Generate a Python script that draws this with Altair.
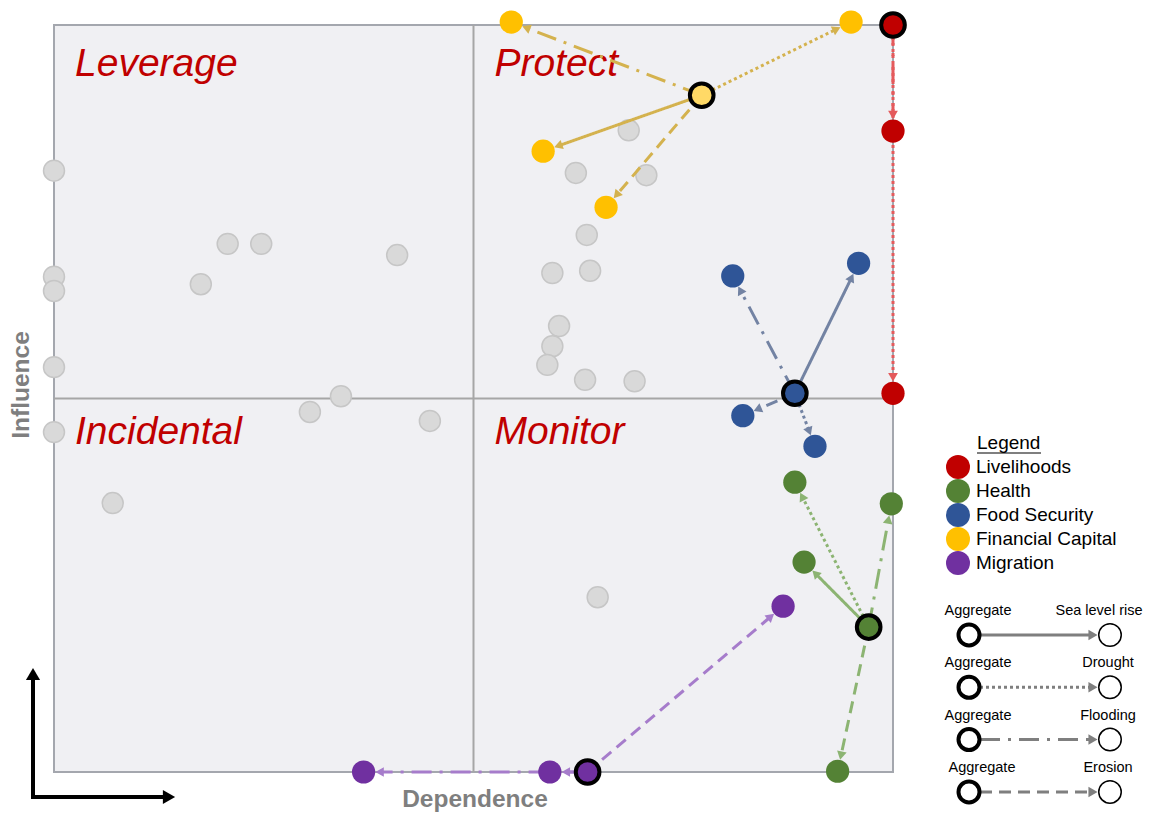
import math
import altair as alt
import pandas as pd

# ---------------- data ----------------
categories = ["Livelihoods", "Health", "Food Security", "Financial Capital", "Migration"]
scenarios = ["Sea level rise", "Drought", "Flooding", "Erosion"]

# aggregate position of each highlighted item
agg_x = [10.0, 9.71, 8.83, 7.72, 6.36]
agg_y = [10.0, 1.94, 5.07, 9.06, 0.0]

# position of each item under each scenario (None = no arrow)
slr_x = [None, 8.94, 9.59, 5.83, 5.91]
slr_y = [None, 2.81, 6.81, 8.31, 0.0]
drought_x = [10.0, 8.83, 9.07, 9.50, None]
drought_y = [5.07, 3.88, 4.36, 10.04, None]
flooding_x = [10.0, 9.98, 8.09, 5.45, 3.69]
flooding_y = [8.58, 3.59, 6.64, 10.04, 0.0]
erosion_x = [None, 9.34, 8.21, 6.58, 8.69]
erosion_y = [None, 0.01, 4.77, 7.56, 2.22]

# other (grey) items
other_x = [0.0, 2.07, 2.47, 4.09, 1.75, 0.0, 0.0, 0.0, 3.42, 3.05, 4.48, 0.0, 0.70,
           6.85, 6.22, 7.06, 6.35, 5.94, 6.39, 6.02, 5.94, 5.88, 6.33, 6.92, 6.48]
other_y = [8.05, 7.07, 7.07, 6.92, 6.53, 6.63, 6.44, 5.42, 5.03, 4.82, 4.70, 4.55, 3.60,
           8.59, 8.02, 7.99, 7.19, 6.68, 6.71, 5.97, 5.70, 5.45, 5.25, 5.23, 2.34]

quadrant_labels = ["Leverage", "Protect", "Incidental", "Monitor"]
x_title = "Dependence"
y_title = "Influence"
legend_title = "Legend"
aggregate_label = "Aggregate"

# ---------------- styles ----------------
cat_colors = ["#C00000", "#548235", "#2F5597", "#FFC000", "#7030A0"]
agg_fills = ["#C00000", "#548235", "#2F5597", "#FFD966", "#7030A0"]
arrow_colors = ["#E45A5C", "#8CB472", "#7383A3", "#D4B24E", "#A67CCB"]
dash_styles = [[1, 0], [3, 3], [20, 8, 3, 8], [12, 7]]

X_LO, X_HI, Y_LO, Y_HI = 0.0, 10.0, 0.0, 10.0
X_MID, Y_MID = (X_LO + X_HI) / 2, (Y_LO + Y_HI) / 2
W, H = 839, 747
PX = W / (X_HI - X_LO)
PY = H / (Y_HI - Y_LO)
BACK = 16.0  # target radius + half arrow head (px)

xs = alt.Scale(domain=[X_LO, X_HI], nice=False, zero=False)
ys = alt.Scale(domain=[Y_LO, Y_HI], nice=False, zero=False)


def X(f):
    return alt.X(f, type="quantitative", scale=xs, axis=None)


def Y(f):
    return alt.Y(f, type="quantitative", scale=ys, axis=None)


# ---------------- tables ----------------
targets = {
    "Sea level rise": (slr_x, slr_y),
    "Drought": (drought_x, drought_y),
    "Flooding": (flooding_x, flooding_y),
    "Erosion": (erosion_x, erosion_y),
}
arrow_rows, target_rows = [], []
for i, c in enumerate(categories):
    for s in scenarios:
        tx, ty = targets[s][0][i], targets[s][1][i]
        if tx is None:
            continue
        dxp = (tx - agg_x[i]) * PX
        dyp = (agg_y[i] - ty) * PY
        L = math.hypot(dxp, dyp)
        ux, uy = dxp / L, dyp / L
        arrow_rows.append({
            "category": c, "scenario": s,
            "ax": agg_x[i], "ay": agg_y[i],
            "hx": tx - BACK * ux / PX, "hy": ty + BACK * uy / PY,
            "ang": (math.degrees(math.atan2(ux, -uy)) + 360) % 360,
            "acol": arrow_colors[i],
        })
        target_rows.append({"category": c, "scenario": s, "tx": tx, "ty": ty})

arrows = pd.DataFrame(arrow_rows)
tgt = pd.DataFrame(target_rows)
agg = pd.DataFrame({"category": categories, "ax": agg_x, "ay": agg_y, "fill": agg_fills})
others = pd.DataFrame({"x": other_x, "y": other_y})
quads = pd.DataFrame({"label": quadrant_labels,
                      "qx": [X_LO, X_MID, X_LO, X_MID],
                      "qy": [Y_HI, Y_HI, Y_MID, Y_MID],
                      "row": ["top", "top", "bottom", "bottom"]})

layers = []

# quadrant dividers
layers.append(alt.Chart(pd.DataFrame({"x": [X_MID]})).mark_rule(color="#A6A6A6", strokeWidth=2)
              .encode(x=X("x")))
layers.append(alt.Chart(pd.DataFrame({"y": [Y_MID]})).mark_rule(color="#A6A6A6", strokeWidth=2)
              .encode(y=Y("y")))

# quadrant labels
for row, dy in [("top", 51), ("bottom", 45)]:
    layers.append(
        alt.Chart(quads).transform_filter(alt.datum.row == row)
        .mark_text(align="left", baseline="alphabetic", font="Liberation Sans",
                   fontStyle="italic", fontSize=39, color="#C00000", dx=21, dy=dy)
        .encode(x=X("qx"), y=Y("qy"), text="label:N"))

# grey items
layers.append(alt.Chart(others).mark_circle(size=440, color="#D9D9D9", stroke="#C6C6C6",
                                            strokeWidth=1.5, opacity=1)
              .encode(x=X("x"), y=Y("y")))

# arrows
layers.append(
    alt.Chart(arrows).mark_rule(strokeWidth=3)
    .encode(x=X("ax"), y=Y("ay"), x2="hx:Q", y2="hy:Q",
            stroke=alt.Stroke("acol:N", scale=None),
            strokeDash=alt.StrokeDash("scenario:N",
                                      scale=alt.Scale(domain=scenarios, range=dash_styles),
                                      legend=None)))
layers.append(
    alt.Chart(arrows).mark_point(shape="triangle-up", filled=True, size=95, opacity=1, strokeWidth=0)
    .encode(x=X("hx"), y=Y("hy"), angle=alt.Angle("ang:Q", scale=None),
            fill=alt.Fill("acol:N", scale=None)))

# scenario points
layers.append(
    alt.Chart(tgt).mark_circle(size=540, opacity=1)
    .encode(x=X("tx"), y=Y("ty"),
            color=alt.Color("category:N",
                            scale=alt.Scale(domain=categories, range=cat_colors),
                            legend=alt.Legend(title=None, orient="none", legendX=892, legendY=430,
                                              symbolType="circle", symbolSize=576,
                                              symbolStrokeWidth=0, symbolOpacity=1,
                                              labelFontSize=19, labelFont="Liberation Sans",
                                              labelColor="black", labelOffset=6, rowPadding=0,
                                              padding=0, labelLimit=300))))

# aggregate points
layers.append(
    alt.Chart(agg).mark_circle(size=560, stroke="black", strokeWidth=4, opacity=1)
    .encode(x=X("ax"), y=Y("ay"), fill=alt.Fill("fill:N", scale=None)))

one = pd.DataFrame({"t": [0]})

# axis titles
layers.append(alt.Chart(pd.DataFrame({"t": [x_title]}))
              .mark_text(font="Liberation Sans", fontSize=24.5, fontWeight="bold", color="#7F7F7F",
                         align="center", baseline="alphabetic")
              .encode(x=alt.value(421), y=alt.value(782), text="t:N"))
layers.append(alt.Chart(pd.DataFrame({"t": [y_title]}))
              .mark_text(font="Liberation Sans", fontSize=24.5, fontWeight="bold", color="#7F7F7F",
                         align="center", baseline="alphabetic", angle=270)
              .encode(x=alt.value(-25), y=alt.value(360), text="t:N"))

# corner arrows
layers.append(alt.Chart(one).mark_rule(color="black", strokeWidth=4)
              .encode(x=alt.value(-21), y=alt.value(774), y2=alt.value(652)))
layers.append(alt.Chart(one).mark_rule(color="black", strokeWidth=4)
              .encode(x=alt.value(-23), x2=alt.value(112), y=alt.value(772)))
layers.append(alt.Chart(one).mark_point(shape="triangle-up", filled=True, size=200, opacity=1,
                                        color="black", strokeWidth=0)
              .encode(x=alt.value(-21), y=alt.value(649), angle=alt.value(0)))
layers.append(alt.Chart(one).mark_point(shape="triangle-up", filled=True, size=200, opacity=1,
                                        color="black", strokeWidth=0)
              .encode(x=alt.value(115), y=alt.value(772), angle=alt.value(90)))

# legend title (underlined)
layers.append(alt.Chart(pd.DataFrame({"t": [legend_title]}))
              .mark_text(font="Liberation Sans", fontSize=19, color="black", align="left",
                         baseline="middle")
              .encode(x=alt.value(923), y=alt.value(418), text="t:N"))
layers.append(alt.Chart(one).mark_rule(color="black", strokeWidth=1.2)
              .encode(x=alt.value(923), x2=alt.value(987), y=alt.value(428)))

# line style key
for i, s in enumerate(scenarios):
    cy = 610 + 52.3 * i
    ly = cy - 24
    layers.append(alt.Chart(one).mark_rule(color="#7F7F7F", strokeWidth=3, strokeDash=dash_styles[i])
                  .encode(x=alt.value(926), x2=alt.value(1040), y=alt.value(cy)))
    layers.append(alt.Chart(one).mark_point(shape="triangle-up", filled=True, size=110, opacity=1,
                                            color="#7F7F7F", strokeWidth=0)
                  .encode(x=alt.value(1039), y=alt.value(cy), angle=alt.value(90)))
    layers.append(alt.Chart(one).mark_point(filled=False, size=441, opacity=1, fill="white",
                                            stroke="black", strokeWidth=4)
                  .encode(x=alt.value(915), y=alt.value(cy)))
    layers.append(alt.Chart(one).mark_point(filled=False, size=506, opacity=1, fill="white",
                                            stroke="black", strokeWidth=1.5)
                  .encode(x=alt.value(1056), y=alt.value(cy)))
    layers.append(alt.Chart(pd.DataFrame({"t": [aggregate_label]}))
                  .mark_text(font="Liberation Sans", fontSize=14.5, color="black", align="center",
                             baseline="middle")
                  .encode(x=alt.value(924 + (4 if i == 3 else 0)), y=alt.value(ly), text="t:N"))
    layers.append(alt.Chart(pd.DataFrame({"t": [s]}))
                  .mark_text(font="Liberation Sans", fontSize=14.5, color="black", align="center",
                             baseline="middle")
                  .encode(x=alt.value(1045 if i == 0 else 1054), y=alt.value(ly), text="t:N"))

chart = (
    alt.layer(*layers)
    .properties(width=W, height=H, background="white",
                padding={"left": 46, "top": 17, "right": 252, "bottom": 44},
                autosize=alt.AutoSizeParams(type="none"))
    .configure(font="Liberation Sans")
    .configure_view(fill="#F0F0F3", stroke="#A4A7AE", strokeWidth=2)
)

chart.save("out.html", embed_options={"renderer": "svg", "actions": False})
